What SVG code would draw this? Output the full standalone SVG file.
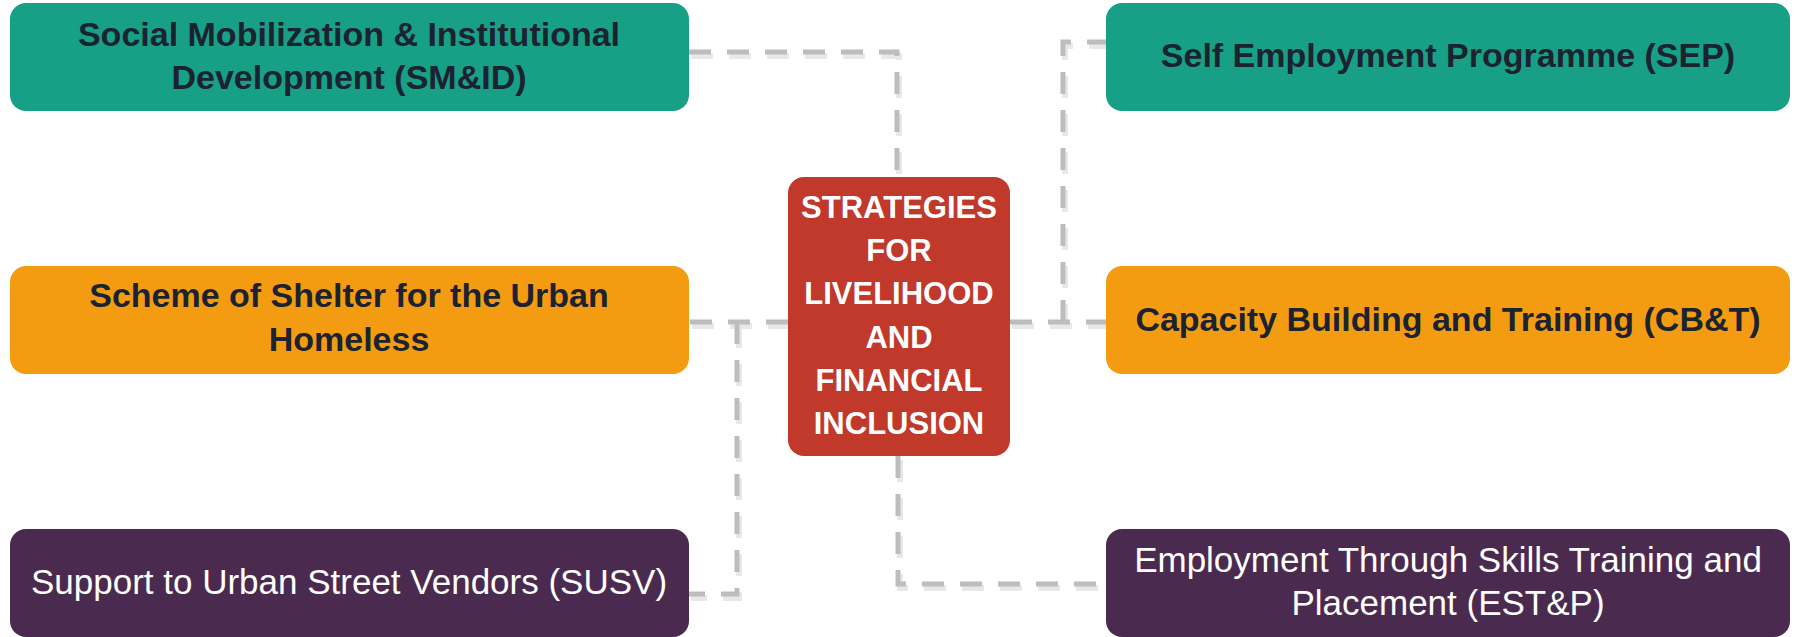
<svg xmlns="http://www.w3.org/2000/svg" width="1797" height="637" viewBox="0 0 1797 637">
<defs>
<style>
.box{stroke:none}
.teal{fill:#17a086}
.orange{fill:#f39c12}
.purple{fill:#4b2a4f}
.red{fill:#c0392b}
.dark{font-family:"Liberation Sans",Arial,sans-serif;font-weight:bold;font-size:34px;fill:#1b2230;text-anchor:middle}
.light{font-family:"Liberation Sans",Arial,sans-serif;font-size:35px;fill:#ffffff;text-anchor:middle}
.center{font-family:"Liberation Sans",Arial,sans-serif;font-weight:bold;font-size:31px;fill:#ffffff;text-anchor:middle}
.conn{fill:none;stroke:#bdbdbd;stroke-width:5;stroke-dasharray:22 16}
.shadow{fill:none;stroke:#e8e8e8;stroke-width:6;stroke-dasharray:22 16}
</style>
</defs>
<g id="connectors">
<g transform="translate(2,4)">
<path class="shadow" d="M689,52 H897 V177"/>
<path class="shadow" d="M898,456 V584 H1106"/>
<path class="shadow" d="M1010,322 H1106"/>
<path class="shadow" d="M1063,322 V42 H1106"/>
<path class="shadow" d="M788,322 H689"/>
<path class="shadow" d="M737,322 V594 H689"/>
</g>
<path class="conn" d="M689,52 H897 V177"/>
<path class="conn" d="M898,456 V584 H1106"/>
<path class="conn" d="M1010,322 H1106"/>
<path class="conn" d="M1063,322 V42 H1106"/>
<path class="conn" d="M788,322 H689"/>
<path class="conn" d="M737,322 V594 H689"/>
</g>
<g id="smid">
<rect class="box teal" x="10" y="3" width="679" height="108" rx="16"/>
<text class="dark" x="349" y="46">Social Mobilization &amp; Institutional</text>
<text class="dark" x="349" y="89">Development (SM&amp;ID)</text>
</g>
<g id="shelter">
<rect class="box orange" x="10" y="266" width="679" height="108" rx="16"/>
<text class="dark" x="349" y="307">Scheme of Shelter for the Urban</text>
<text class="dark" x="349" y="351">Homeless</text>
</g>
<g id="susv">
<rect class="box purple" x="10" y="529" width="679" height="108" rx="16"/>
<text class="light" x="349" y="594">Support to Urban Street Vendors (SUSV)</text>
</g>
<g id="sep">
<rect class="box teal" x="1106" y="3" width="684" height="108" rx="16"/>
<text class="dark" x="1448" y="67">Self Employment Programme (SEP)</text>
</g>
<g id="cbt">
<rect class="box orange" x="1106" y="266" width="684" height="108" rx="16"/>
<text class="dark" x="1448" y="331">Capacity Building and Training (CB&amp;T)</text>
</g>
<g id="estp">
<rect class="box purple" x="1106" y="529" width="684" height="108" rx="16"/>
<text class="light" x="1448" y="572">Employment Through Skills Training and</text>
<text class="light" x="1448" y="615">Placement (EST&amp;P)</text>
</g>
<g id="strategies">
<rect class="box red" x="788" y="177" width="222" height="279" rx="16"/>
<text class="center" x="899" y="218">STRATEGIES</text>
<text class="center" x="899" y="261">FOR</text>
<text class="center" x="899" y="304">LIVELIHOOD</text>
<text class="center" x="899" y="348">AND</text>
<text class="center" x="899" y="391">FINANCIAL</text>
<text class="center" x="899" y="434">INCLUSION</text>
</g>
</svg>
